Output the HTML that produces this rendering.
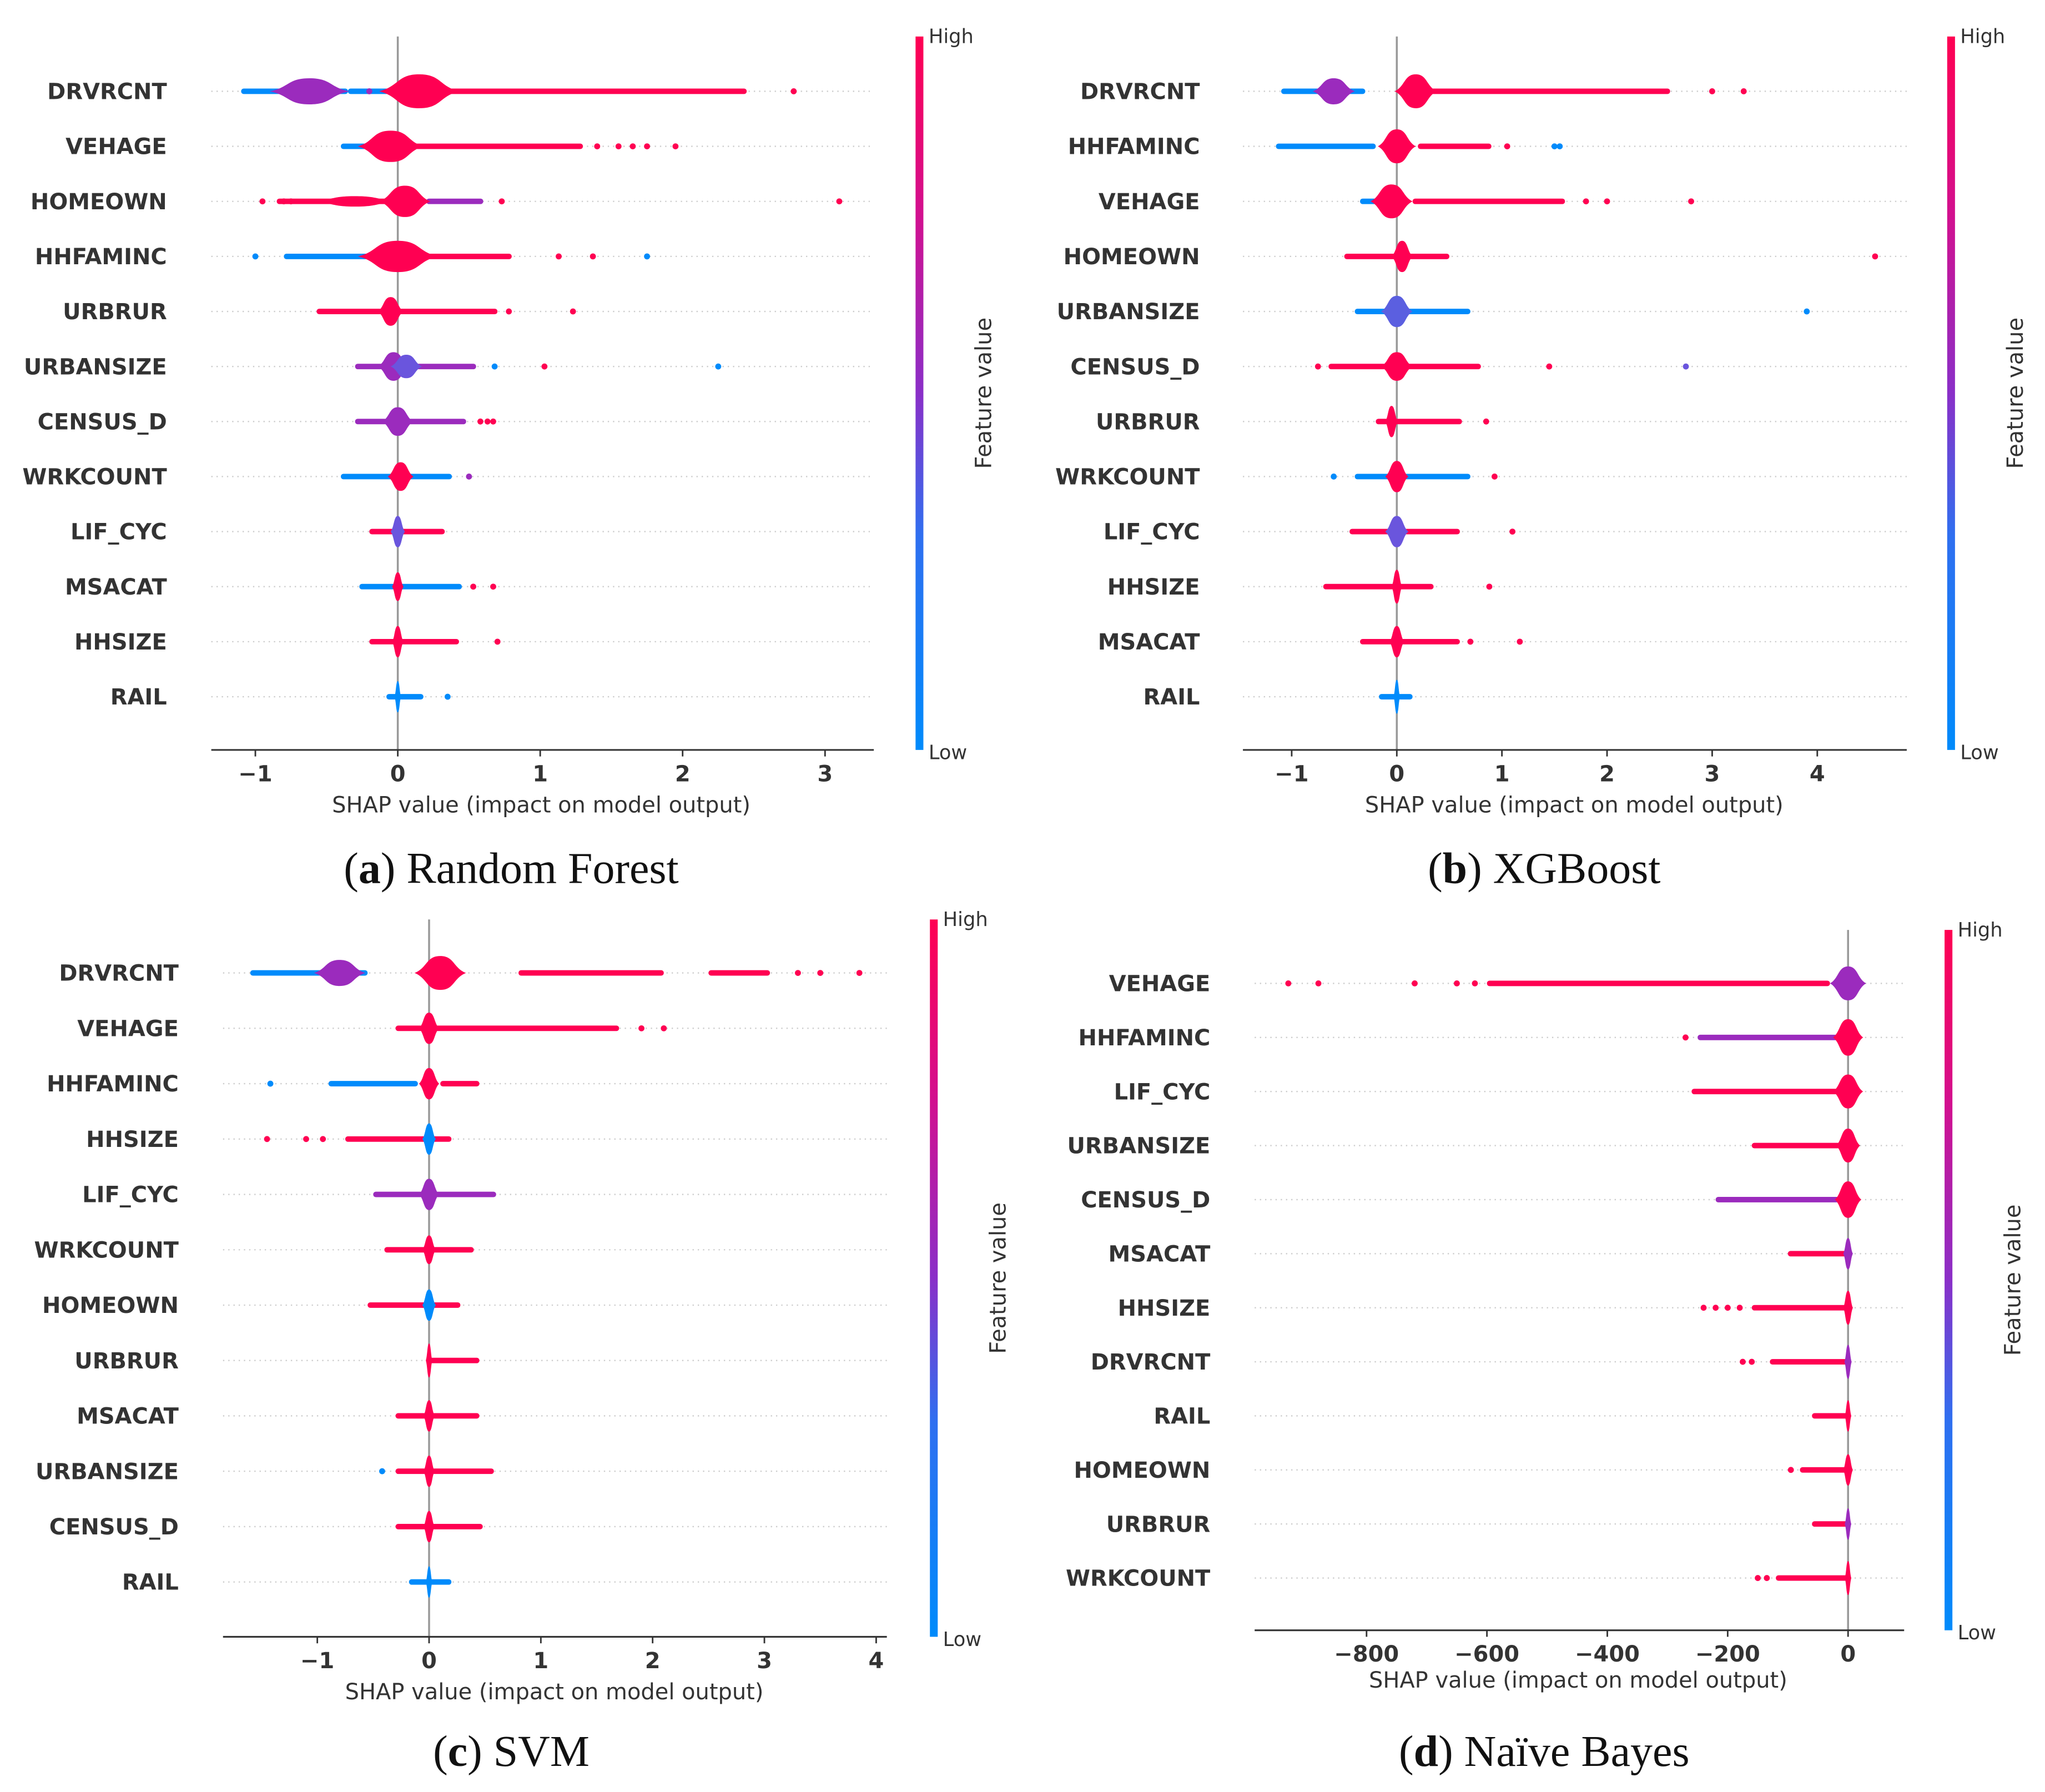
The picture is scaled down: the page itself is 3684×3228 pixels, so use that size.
<!DOCTYPE html>
<html><head><meta charset="utf-8"><style>
html,body{margin:0;padding:0;background:#fff;}
svg{display:block;}
text{font-family:"DejaVu Sans","Liberation Sans",sans-serif;}
.cap{font-family:"Liberation Serif",serif;}
</style></head><body>
<svg id="root" xmlns="http://www.w3.org/2000/svg" width="3684" height="3228" viewBox="0 0 1568 1374" preserveAspectRatio="none">
<defs><linearGradient id="cb" x1="0" y1="1" x2="0" y2="0">
<stop offset="0" stop-color="#008bfb"/><stop offset="0.3" stop-color="#2f6ff0"/><stop offset="0.5" stop-color="#8a2fc8"/><stop offset="0.75" stop-color="#d2108f"/><stop offset="1" stop-color="#ff0052"/></linearGradient></defs>
</svg>
<script>
const R='#ff0052',B='#008bfb',P='#9b2bbd',V='#6a55dd';
// ---------- Panel A: Random Forest ----------
const aFeatures=['DRVRCNT','VEHAGE','HOMEOWN','HHFAMINC','URBRUR','URBANSIZE','CENSUS_D','WRKCOUNT','LIF_CYC','MSACAT','HHSIZE','RAIL'];
const aBlobs=[[[-0.62,0.28,10,P],[0.15,0.28,13,R]],[[-0.05,0.23,12,R]],[[-0.3,0.3,4,R],[0.05,0.18,12,R]],[[0,0.28,12,R]],[[-0.05,0.09,11,R]],[[-0.03,0.11,11,P],[0.06,0.11,9,V]],[[0,0.11,11,P]],[[0.02,0.09,11,R]],[[0,0.05,12,V]],[[0,0.04,11,R]],[[0,0.04,12,R]],[[0,0.02,12,B]]];
const aSegs=[[[-1.1,-0.35,B],[-0.35,-0.05,B],[0.3,2.45,R]],[[-0.4,-0.1,B],[0.1,1.3,R]],[[-0.85,0.2,R],[0.2,0.6,P]],[[-0.8,-0.2,B],[0.2,0.8,R]],[[-0.57,0.7,R]],[[-0.3,0.55,P]],[[-0.3,0.48,P]],[[-0.4,0.38,B]],[[-0.2,0.33,R]],[[-0.27,0.45,B]],[[-0.2,0.43,R]],[[-0.08,0.18,B]]];
const aPts=[[[2.78,R],[-0.2,P]],[[1.4,R],[1.55,R],[1.65,R],[1.75,R],[1.95,R]],[[-0.95,R],[-0.8,R],[-0.75,R],[0.73,R],[3.1,R]],[[-1.0,B],[1.13,R],[1.37,R],[1.75,B]],[[0.78,R],[1.23,R]],[[0.68,B],[1.03,R],[2.25,B]],[[0.58,R],[0.63,R],[0.67,R]],[[0.5,P]],[],[[0.53,R],[0.67,R]],[[0.7,R]],[[0.35,B]]];
const aTicks=[-1,0,1,2,3];
// ---------- Panel B: XGBoost ----------
const bFeatures=['DRVRCNT','HHFAMINC','VEHAGE','HOMEOWN','URBANSIZE','CENSUS_D','URBRUR','WRKCOUNT','LIF_CYC','HHSIZE','MSACAT','RAIL'];
const bBlobs=[[[-0.6,0.2,10,P],[0.18,0.2,13,R]],[[0,0.18,13,R]],[[-0.05,0.2,13,R]],[[0.05,0.1,12,R]],[[0,0.15,12,'#5b5fe0']],[[0,0.15,11,R]],[[-0.05,0.06,12,R]],[[0,0.11,12,R]],[[0,0.11,12,V]],[[0,0.05,13,R]],[[0,0.07,12,R]],[[0,0.03,13,B]]];
const bSegs=[[[-1.1,-0.3,B],[0.3,2.6,R]],[[-1.15,-0.2,B],[0.2,0.9,R]],[[-0.35,-0.1,B],[0.15,1.6,R]],[[-0.5,0.5,R]],[[-0.4,0.7,B]],[[-0.65,0.8,R]],[[-0.2,0.62,R]],[[-0.4,0.7,B]],[[-0.45,0.6,R]],[[-0.7,0.35,R]],[[-0.35,0.6,R]],[[-0.17,0.15,B]]];
const bPts=[[[3.0,R],[3.3,R]],[[1.05,R],[1.5,B],[1.55,B]],[[1.8,R],[2.0,R],[2.8,R]],[[4.55,R]],[[3.9,B]],[[-0.75,R],[1.45,R],[2.75,V]],[[0.85,R]],[[-0.6,B],[0.93,R]],[[1.1,R]],[[0.88,R]],[[0.7,R],[1.17,R]],[]];
const bTicks=[-1,0,1,2,3,4];
// ---------- Panel C: SVM ----------
const cFeatures=['DRVRCNT','VEHAGE','HHFAMINC','HHSIZE','LIF_CYC','WRKCOUNT','HOMEOWN','URBRUR','MSACAT','URBANSIZE','CENSUS_D','RAIL'];
const cBlobs=[[[-0.8,0.23,10,P],[0.1,0.23,13,R]],[[0,0.09,12,R]],[[0,0.09,12,R]],[[0,0.06,12,B]],[[0,0.09,12,P]],[[0,0.06,11,R]],[[0,0.06,12,B]],[[0,0.02,13,R]],[[0,0.05,12,R]],[[0,0.05,12,R]],[[0,0.05,12,R]],[[0,0.02,12,B]]];
const cSegs=[[[-1.6,-0.55,B],[0.8,2.1,R],[2.5,3.05,R]],[[-0.3,1.7,R]],[[-0.9,-0.1,B],[0.1,0.45,R]],[[-0.75,0.2,R]],[[-0.5,0.6,P]],[[-0.4,0.4,R]],[[-0.55,0.28,R]],[[0,0.45,R]],[[-0.3,0.45,R]],[[-0.3,0.58,R]],[[-0.3,0.48,R]],[[-0.18,0.2,B]]];
const cPts=[[[3.3,R],[3.5,R],[3.85,R]],[[1.9,R],[2.1,R]],[[-1.42,B]],[[-1.45,R],[-1.1,R],[-0.95,R]],[],[],[],[],[],[[-0.42,B]],[],[]];
const cTicks=[-1,0,1,2,3,4];
// ---------- Panel D: Naive Bayes ----------
const dFeatures=['VEHAGE','HHFAMINC','LIF_CYC','URBANSIZE','CENSUS_D','MSACAT','HHSIZE','DRVRCNT','RAIL','HOMEOWN','URBRUR','WRKCOUNT'];
const dBlobs=[[[0,30,13,P]],[[0,25,14,R]],[[0,25,13,R]],[[0,20,13,R]],[[0,22,14,R]],[[0,8,12,P]],[[0,8,13,R]],[[0,6,13,P]],[[0,5,12,R]],[[0,8,12,R]],[[0,5,12,P]],[[0,4,13,R]]];
const dSegs=[[[-600,-30,R]],[[-250,0,P]],[[-260,0,R]],[[-160,0,R]],[[-220,0,P]],[[-100,0,R]],[[-160,0,R]],[[-130,0,R]],[[-60,0,R]],[[-80,0,R]],[[-60,0,R]],[[-120,0,R]]];
const dPts=[[[-930,R],[-880,R],[-720,R],[-650,R],[-620,R]],[[-270,R]],[],[],[],[],[[-240,R],[-220,R],[-200,R],[-180,R]],[[-175,R],[-160,R]],[],[[-95,R]],[],[[-150,R],[-135,R]]];
const dTicks=[-800,-600,-400,-200,0];

const NS='http://www.w3.org/2000/svg';
const root=document.getElementById('root');
function mk(tag,attrs,parent,txt){const e=document.createElementNS(NS,tag);for(const k in attrs)e.setAttribute(k,attrs[k]);if(txt!==undefined)e.textContent=txt;(parent||root).appendChild(e);return e;}

function panel(cfg,features,blobs,segs,pts,ticks){
  const g=mk('g',{});
  
  
  const sx=v=>cfg.x0+(v-cfg.v0)*cfg.ppu;
  const sy=i=>cfg.y0+i*cfg.dy;
  features.forEach((f,i)=>{
    const l=mk('line',{x1:cfg.axL,x2:cfg.axR,y1:sy(i),y2:sy(i),stroke:'#ccc','stroke-width':1,'stroke-dasharray':'1,3'},g);
    
    
  });
  const zl=mk('line',{x1:sx(0),x2:sx(0),y1:cfg.top,y2:cfg.axY,stroke:'#999','stroke-width':1.5},g);
  
  
  features.forEach((f,i)=>{
    const y=sy(i);
    const t=mk('text',{x:cfg.labX,y:y+6,'text-anchor':'end','font-size':17,'font-weight':'bold',fill:'#333'},g,f);
    
    
    segs[i].forEach(s=>{
      const r=mk('rect',{x:sx(s[0]),y:y-2.1,width:Math.max(1,sx(s[1])-sx(s[0])),height:4.2,fill:s[2],rx:2},g);
      
      
    });
    blobs[i].forEach(b=>{
      const cx=sx(b[0]),hw=Math.max(2.5,b[1]*cfg.ppu),hh=b[2];
      const p=mk('path',{d:`M${cx-hw},${y} C${cx-hw*0.5},${y-hh*0.3} ${cx-hw*0.55},${y-hh} ${cx},${y-hh} C${cx+hw*0.55},${y-hh} ${cx+hw*0.5},${y-hh*0.3} ${cx+hw},${y} C${cx+hw*0.5},${y+hh*0.3} ${cx+hw*0.55},${y+hh} ${cx},${y+hh} C${cx-hw*0.55},${y+hh} ${cx-hw*0.5},${y+hh*0.3} ${cx-hw},${y} Z`,fill:b[3]},g);
      
      
    });
    pts[i].forEach(q=>{
      const c=mk('circle',{cx:sx(q[0]),cy:y,r:2.3,fill:q[1]},g);
      
      
    });
  });
  const ax=mk('line',{x1:cfg.axL,x2:cfg.axR,y1:cfg.axY,y2:cfg.axY,stroke:'#333','stroke-width':1.3},g);
  
  
  ticks.forEach(v=>{
    const tl=mk('line',{x1:sx(v),x2:sx(v),y1:cfg.axY,y2:cfg.axY+5,stroke:'#333','stroke-width':1.2},g);
    
    
    const tt=mk('text',{x:sx(v),y:cfg.axY+24,'text-anchor':'middle','font-size':17,'font-weight':'bold',fill:'#333'},g,String(v).replace('-','\u2212'));
    
    
  });
  const xl=mk('text',{x:cfg.xlX,y:cfg.xlY,'text-anchor':'middle','font-size':17,fill:'#333'},g,'SHAP value (impact on model output)');
  
  
  const cb=mk('rect',{x:cfg.cbX,y:cfg.top,width:6,height:cfg.axY-cfg.top,fill:'url(#cb)'},g);
  
  
  const hi=mk('text',{x:cfg.cbX+10,y:cfg.top+5,'font-size':15,fill:'#333'},g,'High');
  
  
  const lo=mk('text',{x:cfg.cbX+10,y:cfg.axY+7,'font-size':15,fill:'#333'},g,'Low');
  
  
  const fy=(cfg.top+cfg.axY)/2;
  const fv=mk('text',{x:cfg.cbX+58,y:fy,'text-anchor':'middle','font-size':17,fill:'#333',transform:`rotate(-90 ${cfg.cbX+58} ${fy})`},g,'Feature value');
  
  
  const cap=mk('text',{x:cfg.capX,y:cfg.capY,'text-anchor':'middle','font-size':34,fill:'#111',class:'cap'},g);
  
  
  mk('tspan',{},cap,'(');mk('tspan',{'font-weight':'bold'},cap,cfg.letter);mk('tspan',{},cap,') '+cfg.title);
}

panel({name:'panel-random-forest',x0:305,v0:0,ppu:109.2,y0:70,dy:42.2,top:28,axY:575,axL:162,axR:670,labX:128,xlX:415,xlY:623,cbX:702,capX:392,capY:677,letter:'a',title:'Random Forest'},aFeatures,aBlobs,aSegs,aPts,aTicks);
panel({name:'panel-xgboost',x0:1071,v0:0,ppu:80.6,y0:70,dy:42.2,top:28,axY:575,axL:953,axR:1462,labX:920,xlX:1207,xlY:623,cbX:1493,capX:1184,capY:677,letter:'b',title:'XGBoost'},bFeatures,bBlobs,bSegs,bPts,bTicks);
panel({name:'panel-svm',x0:329,v0:0,ppu:85.7,y0:746,dy:42.45,top:705,axY:1255,axL:171,axR:680,labX:137,xlX:425,xlY:1303,cbX:713,capX:392,capY:1354,letter:'c',title:'SVM'},cFeatures,cBlobs,cSegs,cPts,cTicks);
panel({name:'panel-naive-bayes',x0:1417,v0:0,ppu:0.4615,y0:754,dy:41.45,top:713,axY:1250,axL:962,axR:1460,labX:928,xlX:1210,xlY:1294,cbX:1491,capX:1184,capY:1354,letter:'d',title:'Naïve Bayes'},dFeatures,dBlobs,dSegs,dPts,dTicks);
</script>
</body></html>
